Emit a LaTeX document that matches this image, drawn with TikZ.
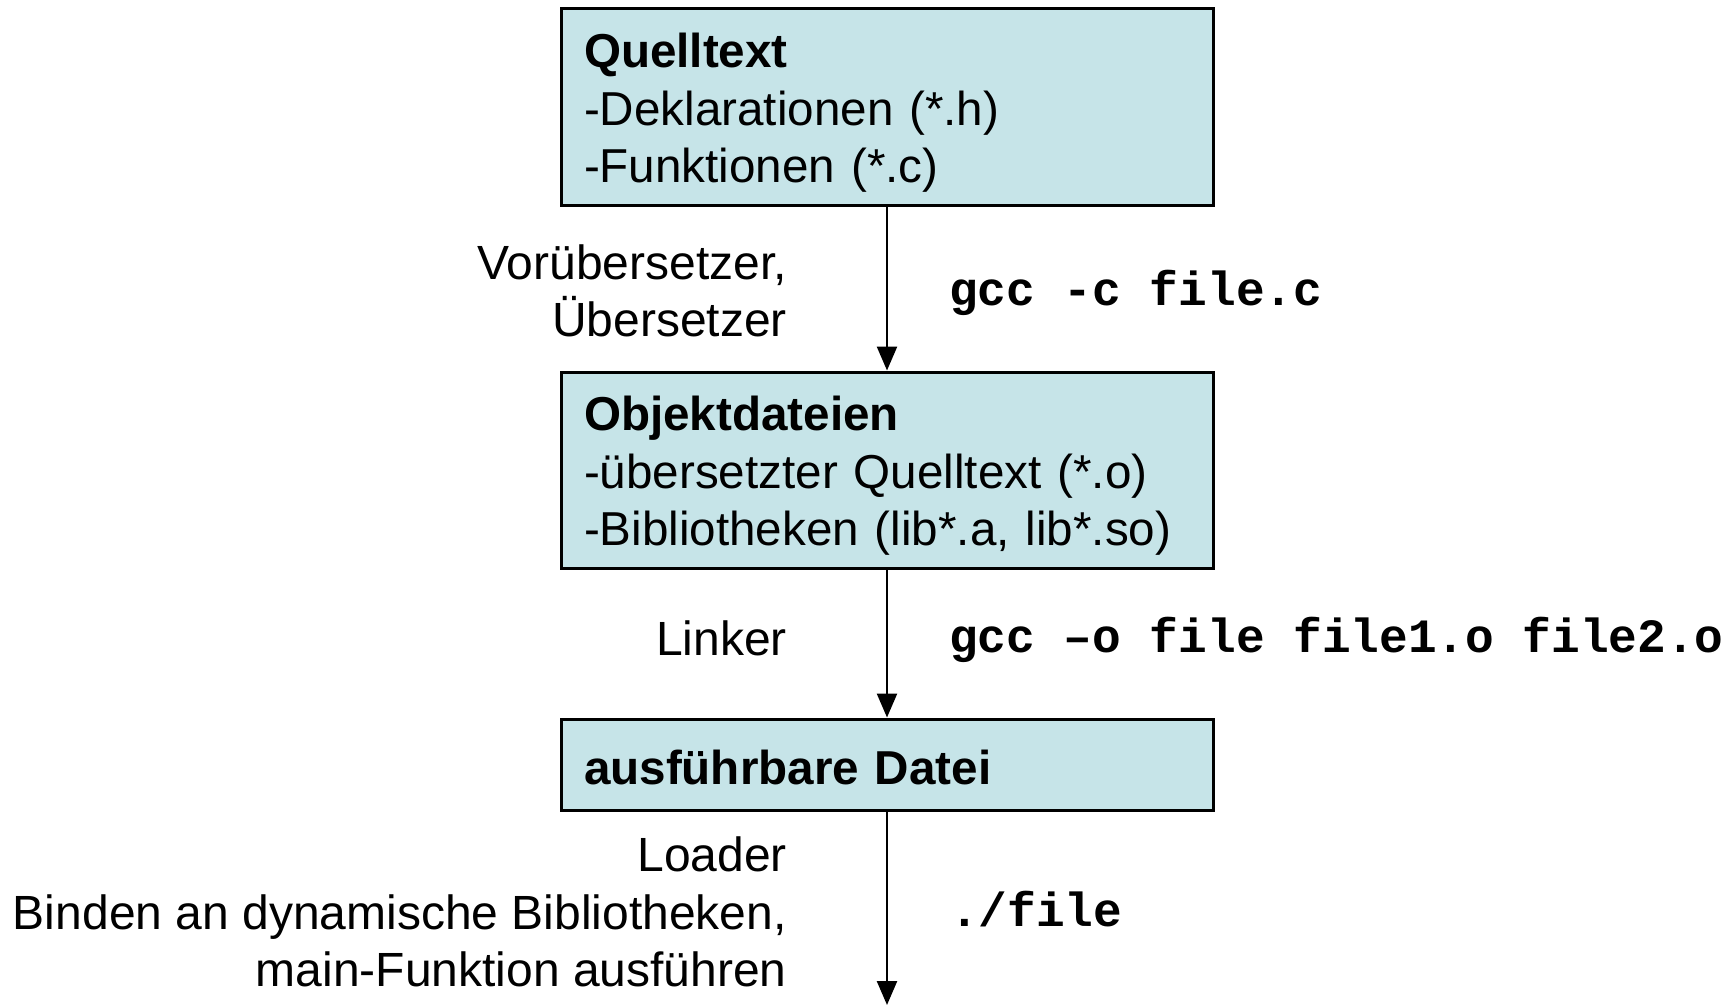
\documentclass[tikz,border=0pt]{standalone}
\usepackage{fontspec}
\setmainfont{Liberation Sans}
\setmonofont{Liberation Mono}
\usetikzlibrary{arrows.meta}
\definecolor{boxfill}{RGB}{198,228,232}
\tikzset{
  stagebox/.style={draw=black, line width=3pt, fill=boxfill, rectangle,
    minimum width=652pt, inner sep=0pt},
  boxtext/.style={text width=606pt, inner sep=0pt, align=left,
    font=\fontsize{47.6}{57.5}\selectfont},
  flow/.style={line width=2.5pt, -{Triangle[length=24pt,width=20pt]}},
  lab/.style={anchor=east, align=right, inner sep=0pt, font=\fontsize{48}{57.5}\selectfont},
  cmd/.style={anchor=west, inner sep=0pt, font=\fontsize{47.8}{57.5}\selectfont\ttfamily\bfseries}
}
\begin{document}
\begin{tikzpicture}[x=1pt,y=-1pt]
\useasboundingbox (0,0) rectangle (1735,1006);
\node[stagebox, minimum height=196pt] (q) at (887,107) {};
\node[stagebox, minimum height=196pt] (o) at (887,470) {};
\node[stagebox, minimum height=91pt] (e) at (887,764.5) {};
\node[boxtext] (qt) at (887,113) {\textbf{Quelltext}\\-Deklarationen (*.h)\\-Funktionen (*.c)};
\node[boxtext] (ot) at (887,476) {\textbf{Objektdateien}\\-übersetzter Quelltext (*.o)\\-Bibliotheken (lib*.a, lib*.so)};
\node[boxtext] (et) at (887,767) {\textbf{ausführbare Datei}};
\coordinate (end) at (887,1005);
\draw[flow] (q.south) -- (o.north);
\draw[flow] (o.south) -- (e.north);
\draw[flow] (e.south) -- (end);
\node[lab] (l1) at (787,291) {Vorübersetzer,\\Übersetzer};
\node[lab] (l2) at (787,638) {Linker};
\node[lab] (l3) at (787,912) {Loader\\Binden an dynamische Bibliotheken,\\main-Funktion ausführen};
\node[cmd] (c1) at (949,293) {gcc -c file.c};
\node[cmd] (c2) at (949,640) {gcc –o file file1.o file2.o};
\node[cmd] (c3) at (950,909) {./file};
\end{tikzpicture}
\end{document}
